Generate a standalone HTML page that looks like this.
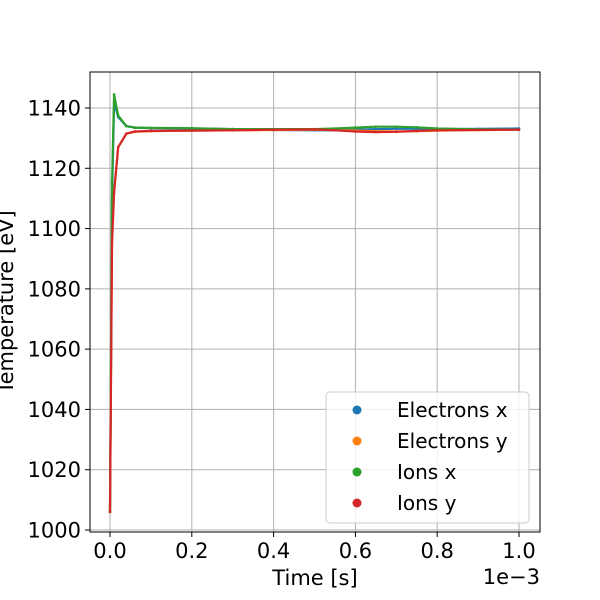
<!DOCTYPE html>
<html><head><meta charset="utf-8"><style>
html,body{margin:0;padding:0;background:#fff}
svg{display:block;font-family:"DejaVu Sans","Liberation Sans",sans-serif}
</style></head><body>
<svg id="chart" width="600" height="600" viewBox="0 0 600 600" xmlns="http://www.w3.org/2000/svg">
<g id="grid"></g>
<g id="series"></g>
<rect x="90" y="72" width="450" height="460" fill="none" stroke="#000" stroke-width="1"/>
<g id="axes"></g>
<text x="315" y="585" font-size="21" text-anchor="middle">Time [s]</text>
<text x="540" y="584" font-size="21" text-anchor="end">1e−3</text>
<text transform="translate(13,302) rotate(-90)" font-size="21" text-anchor="middle">Temperature [eV]</text>
<g>
<rect x="326" y="392" width="203" height="131" rx="4" fill="#fff" fill-opacity="0.8" stroke="#ccc"/>
<g id="legend-items"></g>
</g>
</svg>
<script>
const times=[0,0.005,0.01,0.02,0.04,0.06,0.1,0.2,0.3,0.4,0.5,0.55,0.6,0.65,0.7,0.75,0.8,0.9,1.0];
const electronsX=[1006,1110,1142,1137,1134,1133.5,1133.3,1133.2,1133,1132.7,1132.6,1132.6,1132.8,1133,1133.1,1133.1,1133,1133.1,1133.2];
const electronsY=[1006,1100,1112,1127,1131.5,1132.1,1132.3,1132.5,1132.6,1132.7,1132.8,1132.7,1132.5,1132.3,1132.2,1132.3,1132.5,1132.7,1132.8];
const ionsX=[1006,1115,1144.5,1137.5,1134,1133.5,1133.4,1133.3,1133,1133,1133,1133.2,1133.5,1133.8,1133.8,1133.6,1133.2,1132.9,1132.8];
const ionsY=[1006,1095,1112,1127,1131.5,1132.2,1132.4,1132.5,1132.6,1132.8,1132.9,1132.6,1132.2,1132,1132.1,1132.4,1132.6,1132.7,1132.8];
const xTicks=[0,0.2,0.4,0.6,0.8,1.0];
const xTickLabels=["0.0","0.2","0.4","0.6","0.8","1.0"];
const yTicks=[1000,1020,1040,1060,1080,1100,1120,1140];
const seriesNames=["Electrons x","Electrons y","Ions x","Ions y"];
const seriesColors=["#1f77b4","#ff7f0e","#2ca02c","#d62728"];

const NS="http://www.w3.org/2000/svg";
function xs(v){return 110+v*409;}
function ys(v){return 530-(v-1000)*(422/140);}
function mk(tag,attrs,parent){const e=document.createElementNS(NS,tag);for(const k in attrs)e.setAttribute(k,attrs[k]);parent.appendChild(e);return e;}
const grid=document.getElementById('grid'),axes=document.getElementById('axes'),ser=document.getElementById('series'),leg=document.getElementById('legend-items');
xTicks.forEach((t,i)=>{
  const x=xs(t);
  const g=mk('line',{x1:x,x2:x,y1:72,y2:532,stroke:'#b0b0b0','stroke-width':1},grid);
  
  const tk=mk('line',{x1:x,x2:x,y1:532,y2:537,stroke:'#000'},axes);
  
  const tx=mk('text',{x:x,y:558,'font-size':21,'text-anchor':'middle'},axes);tx.textContent=xTickLabels[i];
  
});
yTicks.forEach(t=>{
  const y=ys(t);
  const g=mk('line',{x1:90,x2:540,y1:y,y2:y,stroke:'#b0b0b0','stroke-width':1},grid);
  
  const tk=mk('line',{x1:85,x2:90,y1:y,y2:y,stroke:'#000'},axes);
  
  const tx=mk('text',{x:81,y:y+7.5,'font-size':21,'text-anchor':'end'},axes);tx.textContent=t;
  
});
[electronsX,electronsY,ionsX,ionsY].forEach((vals,si)=>{
  const c=seriesColors[si];
  const p=mk('polyline',{points:vals.map((v,i)=>xs(times[i])+','+ys(v)).join(' '),fill:'none',stroke:c,'stroke-width':2.2,'stroke-linejoin':'round'},ser);
  
  vals.forEach((v,i)=>{
    const d=mk('circle',{cx:xs(times[i]),cy:ys(v),r:1.3,fill:c},ser);
    
  });
  const ly=410+si*31;
  const lc=mk('circle',{cx:357,cy:ly,r:4.5,fill:c},leg);
  
  const lt=mk('text',{x:397,y:ly+7,'font-size':20},leg);lt.textContent=seriesNames[si];
  
});
</script>
</body></html>
